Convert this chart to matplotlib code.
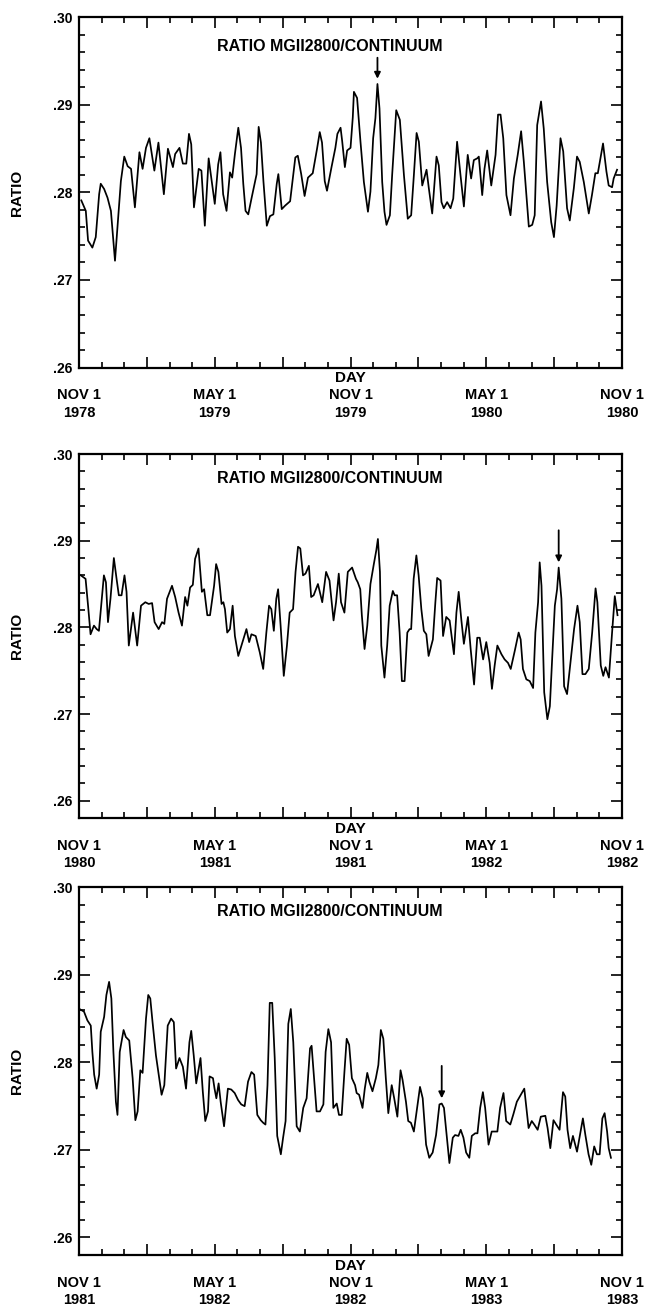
import numpy as np
import matplotlib
matplotlib.use('Agg')
import matplotlib.pyplot as plt
from matplotlib.ticker import MultipleLocator, FuncFormatter

plt.rcParams['font.family'] = ['Liberation Sans', 'DejaVu Sans']
plt.rcParams['font.weight'] = 'bold'

# x = months since NOV 1 of each panel's first year, y = MgII 2800 / continuum ratio
p1_month = [0.10, 0.30, 0.40, 0.59, 0.74, 0.89, 0.96, 1.11, 1.26, 1.41, 1.59, 1.70, 1.85, 2.00,
            2.15, 2.30, 2.47, 2.67, 2.81, 2.96, 3.11, 3.33, 3.51, 3.75, 3.93, 4.15, 4.25, 4.44,
            4.59, 4.74, 4.86, 4.96, 5.08, 5.29, 5.41, 5.56, 5.73, 6.00, 6.15, 6.25, 6.37, 6.52,
            6.67, 6.77, 6.89, 7.04, 7.16, 7.26, 7.36, 7.48, 7.63, 7.85, 7.94, 8.04, 8.15, 8.30,
            8.44, 8.59, 8.74, 8.81, 8.96, 9.11, 9.33, 9.56, 9.67, 9.82, 9.97, 10.12, 10.33, 10.52,
            10.64, 10.74, 10.86, 10.96, 11.16, 11.33, 11.42, 11.56, 11.63, 11.75, 11.85, 12.00,
            12.10, 12.15, 12.29, 12.44, 12.59, 12.77, 12.88, 13.00, 13.10, 13.19, 13.28, 13.40,
            13.50, 13.59, 13.74, 13.84, 14.02, 14.18, 14.36, 14.53, 14.68, 14.80, 14.92, 15.02,
            15.17, 15.36, 15.46, 15.61, 15.80, 15.90, 16.02, 16.12, 16.27, 16.42, 16.54, 16.71,
            16.86, 17.01, 17.18, 17.33, 17.45, 17.60, 17.67, 17.82, 17.92, 18.04, 18.22, 18.41,
            18.52, 18.63, 18.75, 18.89, 19.07, 19.22, 19.39, 19.54, 19.66, 19.88, 20.03, 20.14,
            20.25, 20.42, 20.54, 20.69, 20.87, 20.99, 21.11, 21.28, 21.40, 21.57, 21.69, 21.87,
            22.01, 22.13, 22.31, 22.53, 22.67, 22.82, 22.93, 23.16, 23.31, 23.41, 23.56, 23.63,
            23.78]
p1_ratio = [0.2791, 0.2779, 0.2745, 0.2737, 0.2749, 0.2798, 0.2810, 0.2804, 0.2794, 0.2779,
            0.2722, 0.2760, 0.2813, 0.2841, 0.2830, 0.2827, 0.2783, 0.2846, 0.2827, 0.2851,
            0.2862, 0.2825, 0.2857, 0.2798, 0.2850, 0.2829, 0.2844, 0.2851, 0.2833, 0.2833,
            0.2867, 0.2855, 0.2783, 0.2827, 0.2825, 0.2762, 0.2839, 0.2787, 0.2832, 0.2846,
            0.2798, 0.2779, 0.2823, 0.2817, 0.2844, 0.2874, 0.2851, 0.2810, 0.2779, 0.2775,
            0.2794, 0.2821, 0.2875, 0.2857, 0.2813, 0.2762, 0.2773, 0.2775, 0.2810, 0.2821,
            0.2781, 0.2785, 0.2790, 0.2840, 0.2842, 0.2821, 0.2796, 0.2817, 0.2822, 0.2850,
            0.2869, 0.2857, 0.2813, 0.2802, 0.2829, 0.2851, 0.2867, 0.2874, 0.2859, 0.2829,
            0.2848, 0.2851, 0.2886, 0.2915, 0.2908, 0.2858, 0.2812, 0.2778, 0.2801, 0.2862,
            0.2885, 0.2924, 0.2896, 0.2812, 0.2778, 0.2763, 0.2774, 0.2820, 0.2894, 0.2883,
            0.2820, 0.2770, 0.2774, 0.2820, 0.2868, 0.2858, 0.2808, 0.2826, 0.2805, 0.2776,
            0.2841, 0.2831, 0.2789, 0.2782, 0.2789, 0.2782, 0.2793, 0.2858, 0.2820, 0.2784,
            0.2843, 0.2816, 0.2837, 0.2839, 0.2841, 0.2797, 0.2827, 0.2848, 0.2808, 0.2843,
            0.2889, 0.2889, 0.2862, 0.2797, 0.2774, 0.2816, 0.2843, 0.2870, 0.2835, 0.2761,
            0.2763, 0.2774, 0.2877, 0.2904, 0.2873, 0.2812, 0.2766, 0.2749, 0.2785, 0.2862,
            0.2847, 0.2782, 0.2768, 0.2805, 0.2841, 0.2835, 0.2812, 0.2776, 0.2797, 0.2822,
            0.2822, 0.2856, 0.2824, 0.2808, 0.2806, 0.2816, 0.2826]

p2_month = [0.08, 0.29, 0.40, 0.51, 0.66, 0.78, 0.88, 0.98, 1.10, 1.19, 1.28, 1.39, 1.54, 1.66,
            1.76, 1.88, 2.01, 2.10, 2.20, 2.39, 2.57, 2.74, 2.93, 3.08, 3.23, 3.34, 3.52, 3.67,
            3.77, 3.89, 4.11, 4.25, 4.40, 4.55, 4.69, 4.79, 4.91, 5.03, 5.13, 5.28, 5.43, 5.53,
            5.67, 5.79, 5.97, 6.06, 6.16, 6.30, 6.38, 6.45, 6.55, 6.67, 6.79, 6.89, 7.04, 7.18,
            7.40, 7.52, 7.62, 7.81, 7.99, 8.14, 8.28, 8.40, 8.50, 8.61, 8.72, 8.80, 8.91, 9.05,
            9.19, 9.31, 9.46, 9.57, 9.68, 9.78, 9.90, 10.01, 10.16, 10.26, 10.37, 10.56, 10.75,
            10.92, 11.07, 11.25, 11.36, 11.48, 11.58, 11.73, 11.88, 12.07, 12.24, 12.32, 12.43,
            12.50, 12.62, 12.74, 12.88, 13.03, 13.14, 13.21, 13.30, 13.36, 13.50, 13.62, 13.73,
            13.87, 13.95, 14.06, 14.17, 14.27, 14.39, 14.51, 14.61, 14.68, 14.79, 14.91, 15.01,
            15.13, 15.24, 15.35, 15.45, 15.64, 15.75, 15.83, 15.98, 16.09, 16.23, 16.38, 16.57,
            16.68, 16.78, 16.90, 17.01, 17.19, 17.31, 17.46, 17.60, 17.71, 17.86, 18.00, 18.15,
            18.25, 18.37, 18.49, 18.67, 18.81, 18.96, 19.08, 19.26, 19.43, 19.52, 19.62, 19.77,
            19.92, 20.07, 20.17, 20.29, 20.36, 20.44, 20.56, 20.70, 20.81, 20.91, 21.03, 21.13,
            21.20, 21.32, 21.44, 21.57, 21.69, 21.88, 22.03, 22.13, 22.25, 22.38, 22.53, 22.68,
            22.83, 22.91, 23.06, 23.17, 23.27, 23.42, 23.56, 23.68, 23.80]
p2_ratio = [0.2860, 0.2856, 0.2825, 0.2792, 0.2802, 0.2798, 0.2796, 0.2825, 0.2860, 0.2852,
            0.2806, 0.2833, 0.2880, 0.2856, 0.2837, 0.2837, 0.2860, 0.2841, 0.2779, 0.2817,
            0.2779, 0.2825, 0.2829, 0.2827, 0.2828, 0.2806, 0.2798, 0.2806, 0.2804, 0.2833,
            0.2848, 0.2835, 0.2817, 0.2802, 0.2835, 0.2825, 0.2846, 0.2849, 0.2879, 0.2891,
            0.2841, 0.2844, 0.2814, 0.2814, 0.2848, 0.2873, 0.2864, 0.2827, 0.2829, 0.2821,
            0.2794, 0.2798, 0.2825, 0.2790, 0.2767, 0.2779, 0.2798, 0.2783, 0.2792, 0.2790,
            0.2771, 0.2752, 0.2794, 0.2825, 0.2821, 0.2796, 0.2833, 0.2844, 0.2802, 0.2744,
            0.2779, 0.2817, 0.2821, 0.2864, 0.2893, 0.2891, 0.2860, 0.2862, 0.2871, 0.2835,
            0.2837, 0.2850, 0.2829, 0.2864, 0.2854, 0.2808, 0.2829, 0.2862, 0.2829, 0.2817,
            0.2864, 0.2869, 0.2856, 0.2852, 0.2844, 0.2814, 0.2775, 0.2802, 0.2850, 0.2873,
            0.2889, 0.2902, 0.2864, 0.2779, 0.2742, 0.2779, 0.2825, 0.2842, 0.2837, 0.2837,
            0.2794, 0.2738, 0.2738, 0.2794, 0.2798, 0.2798, 0.2856, 0.2883, 0.2860, 0.2821,
            0.2796, 0.2792, 0.2767, 0.2786, 0.2829, 0.2857, 0.2854, 0.2790, 0.2812, 0.2808,
            0.2769, 0.2817, 0.2841, 0.2808, 0.2781, 0.2812, 0.2775, 0.2734, 0.2788, 0.2788,
            0.2763, 0.2783, 0.2759, 0.2729, 0.2756, 0.2779, 0.2769, 0.2763, 0.2759, 0.2752,
            0.2773, 0.2794, 0.2786, 0.2752, 0.2740, 0.2738, 0.2730, 0.2794, 0.2829, 0.2875,
            0.2848, 0.2725, 0.2694, 0.2709, 0.2763, 0.2825, 0.2844, 0.2869, 0.2833, 0.2732,
            0.2723, 0.2752, 0.2798, 0.2825, 0.2806, 0.2746, 0.2746, 0.2752, 0.2794, 0.2845,
            0.2829, 0.2756, 0.2744, 0.2754, 0.2742, 0.2794, 0.2836, 0.2814]

p3_month = [0.02, 0.22, 0.37, 0.52, 0.59, 0.67, 0.78, 0.89, 0.96, 1.11, 1.21, 1.33, 1.43, 1.52,
            1.63, 1.70, 1.80, 1.97, 2.07, 2.22, 2.37, 2.49, 2.59, 2.71, 2.81, 2.96, 3.06, 3.15,
            3.25, 3.40, 3.51, 3.65, 3.77, 3.92, 4.07, 4.19, 4.29, 4.44, 4.59, 4.73, 4.88, 4.96,
            5.07, 5.18, 5.37, 5.47, 5.58, 5.70, 5.77, 5.92, 5.99, 6.07, 6.17, 6.26, 6.41, 6.58,
            6.73, 6.88, 7.03, 7.17, 7.32, 7.47, 7.62, 7.74, 7.88, 8.03, 8.14, 8.24, 8.33, 8.43,
            8.54, 8.65, 8.76, 8.92, 9.02, 9.13, 9.25, 9.36, 9.47, 9.62, 9.76, 9.91, 10.06, 10.21,
            10.28, 10.40, 10.50, 10.65, 10.80, 10.90, 11.02, 11.14, 11.24, 11.39, 11.49, 11.61,
            11.73, 11.83, 11.94, 12.06, 12.20, 12.27, 12.38, 12.53, 12.63, 12.74, 12.83, 12.97,
            13.12, 13.23, 13.34, 13.45, 13.56, 13.67, 13.82, 13.93, 14.07, 14.21, 14.30, 14.45,
            14.55, 14.67, 14.80, 14.92, 15.07, 15.19, 15.34, 15.48, 15.63, 15.78, 15.93, 16.03,
            16.13, 16.25, 16.37, 16.52, 16.62, 16.77, 16.87, 16.99, 17.11, 17.25, 17.36, 17.51,
            17.61, 17.73, 17.85, 17.95, 18.10, 18.24, 18.36, 18.49, 18.61, 18.76, 18.88, 19.06,
            19.20, 19.35, 19.68, 19.87, 20.01, 20.12, 20.27, 20.41, 20.61, 20.71, 20.83, 20.97,
            21.09, 21.24, 21.39, 21.49, 21.59, 21.71, 21.83, 22.01, 22.12, 22.27, 22.38, 22.52,
            22.64, 22.77, 22.89, 23.01, 23.13, 23.23, 23.34, 23.41, 23.51]
p3_ratio = [0.2861, 0.2858, 0.2848, 0.2842, 0.2812, 0.2786, 0.2770, 0.2786, 0.2835, 0.2852,
            0.2877, 0.2892, 0.2873, 0.2812, 0.2755, 0.2740, 0.2812, 0.2837, 0.2829, 0.2825,
            0.2782, 0.2734, 0.2744, 0.2791, 0.2788, 0.2850, 0.2877, 0.2873, 0.2846, 0.2808,
            0.2788, 0.2763, 0.2774, 0.2842, 0.2850, 0.2846, 0.2793, 0.2805, 0.2795, 0.2770,
            0.2823, 0.2836, 0.2808, 0.2776, 0.2805, 0.2767, 0.2733, 0.2744, 0.2784, 0.2782,
            0.2770, 0.2759, 0.2776, 0.2755, 0.2727, 0.2770, 0.2769, 0.2765, 0.2757, 0.2752,
            0.2750, 0.2778, 0.2789, 0.2786, 0.2740, 0.2734, 0.2731, 0.2729, 0.2774, 0.2868,
            0.2868, 0.2805, 0.2716, 0.2695, 0.2714, 0.2733, 0.2844, 0.2861, 0.2823, 0.2727,
            0.2721, 0.2748, 0.2759, 0.2816, 0.2819, 0.2778, 0.2744, 0.2744, 0.2752, 0.2812,
            0.2838, 0.2823, 0.2748, 0.2753, 0.2740, 0.2740, 0.2789, 0.2827, 0.2820, 0.2782,
            0.2774, 0.2765, 0.2763, 0.2748, 0.2770, 0.2788, 0.2778, 0.2767, 0.2782, 0.2797,
            0.2837, 0.2827, 0.2782, 0.2742, 0.2774, 0.2759, 0.2738, 0.2791, 0.2780, 0.2755,
            0.2733, 0.2731, 0.2721, 0.2744, 0.2772, 0.2759, 0.2706, 0.2691, 0.2697, 0.2717,
            0.2752, 0.2753, 0.2748, 0.2717, 0.2685, 0.2714, 0.2717, 0.2716, 0.2723, 0.2714,
            0.2697, 0.2691, 0.2716, 0.2719, 0.2719, 0.2748, 0.2766, 0.2748, 0.2706, 0.2721,
            0.2721, 0.2721, 0.2748, 0.2765, 0.2733, 0.2729, 0.2741, 0.2755, 0.2770, 0.2725,
            0.2733, 0.2729, 0.2723, 0.2738, 0.2739, 0.2725, 0.2702, 0.2734, 0.2729, 0.2723,
            0.2766, 0.2761, 0.2723, 0.2702, 0.2716, 0.2698, 0.2714, 0.2736, 0.2717, 0.2695,
            0.2683, 0.2704, 0.2695, 0.2695, 0.2736, 0.2742, 0.2721, 0.2702, 0.2691]

start_years = [1978, 1980, 1981]
y_bottoms = [0.26, 0.258, 0.258]
arrow_months = [13.19, 21.20, 16.03]
arrow_lengths = [0.0024, 0.0037, 0.0037]
title = "RATIO MGII2800/CONTINUUM"

axes_rects = [[0.1225, 0.7201, 0.8419, 0.2666],
              [0.1225, 0.3770, 0.8419, 0.2772],
              [0.1225, 0.0442, 0.8419, 0.2800]]
title_heights = [0.916, 0.933, 0.934]


def date_labels(y0):
    return ["NOV 1\n%d" % y0, "MAY 1\n%d" % (y0 + 1), "NOV 1\n%d" % (y0 + 1),
            "MAY 1\n%d" % (y0 + 2), "NOV 1\n%d" % (y0 + 2)]


def draw_panel(ax, month, ratio, y0, ybot, arrow_m, arrow_len, title_y):
    ax.plot(month, ratio, color='black', lw=1.25)
    ax.set_xlim(0, 24)
    ax.set_ylim(ybot, 0.30)

    labels = date_labels(y0)
    ax.xaxis.set_major_locator(MultipleLocator(3))
    ax.xaxis.set_minor_locator(MultipleLocator(1))
    ax.xaxis.set_major_formatter(FuncFormatter(
        lambda x, pos: labels[int(round(x)) // 6] if int(round(x)) % 6 == 0 else ''))
    ax.yaxis.set_major_locator(MultipleLocator(0.01))
    ax.yaxis.set_minor_locator(MultipleLocator(0.002))
    ax.yaxis.set_major_formatter(FuncFormatter(lambda v, pos: ('%.2f' % v)[1:]))

    ax.tick_params(which='both', direction='in', top=True, right=True, width=1.2)
    ax.tick_params(which='major', length=8)
    ax.tick_params(which='minor', length=4.5)
    ax.tick_params(axis='x', pad=15, labelsize=10.5)
    ax.tick_params(axis='y', pad=5, labelsize=10)
    for lab in ax.get_xticklabels():
        lab.set_linespacing(1.3)
    for sp in ax.spines.values():
        sp.set_linewidth(1.6)

    ax.text(0.5, -0.03, "DAY", transform=ax.transAxes, ha='center', va='center',
            fontsize=11)
    ax.text(-0.114, 0.5, "RATIO", transform=ax.transAxes, ha='center', va='center',
            rotation=90, fontsize=11)
    ax.text(0.462, title_y, title, transform=ax.transAxes, ha='center', va='center',
            fontsize=11.5)

    # arrow marking the selected rotation peak
    tip = np.interp(arrow_m, month, ratio) + 0.0006
    ax.annotate('', xy=(arrow_m, tip), xytext=(arrow_m, tip + arrow_len),
                arrowprops=dict(arrowstyle='-|>', color='black', lw=1.3,
                                mutation_scale=9, shrinkA=0, shrinkB=0))


if __name__ == '__main__':
    fig = plt.figure(figsize=(6.45, 13.13), dpi=100)
    series = [(p1_month, p1_ratio), (p2_month, p2_ratio), (p3_month, p3_ratio)]
    for i, (m, r) in enumerate(series):
        ax = fig.add_axes(axes_rects[i])
        draw_panel(ax, m, r, start_years[i], y_bottoms[i], arrow_months[i],
                   arrow_lengths[i], title_heights[i])
    fig.savefig('out.png', dpi=100)
